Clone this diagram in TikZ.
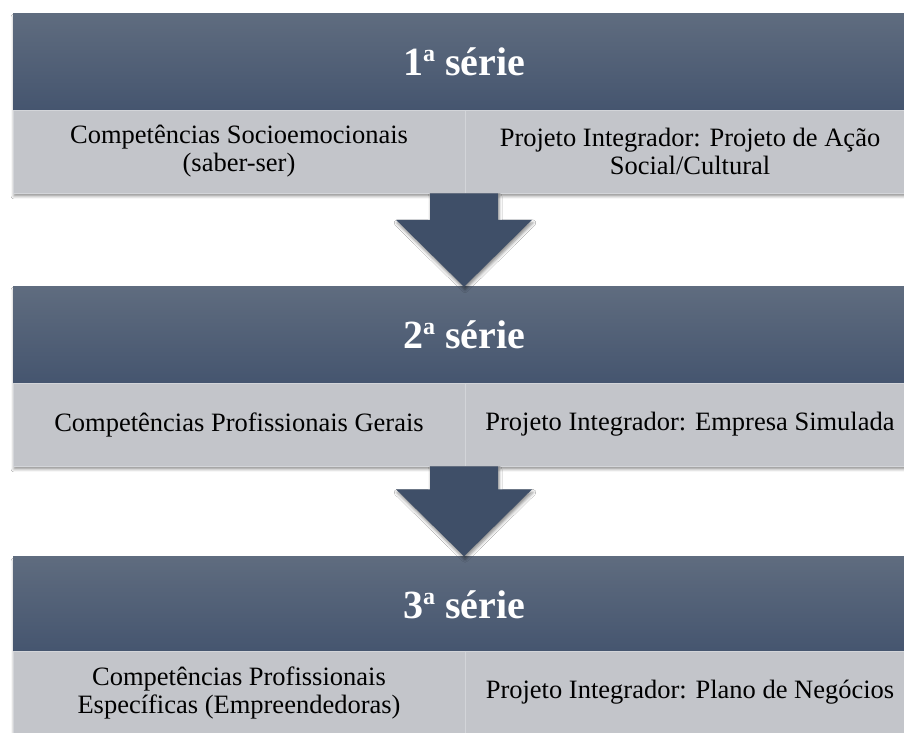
\documentclass[tikz,border=0pt]{standalone}
\usepackage{fontspec}
\setmainfont{Liberation Serif}
\usetikzlibrary{calc,shadows.blur}
\definecolor{hdtop}{HTML}{5F6C7F}
\definecolor{hdbot}{HTML}{45556F}
\definecolor{cellbg}{HTML}{C3C5CA}
\definecolor{arrowc}{HTML}{3F4F68}
\definecolor{cellline}{HTML}{D3D5D9}
\newcommand{\ordsup}{\raisebox{14pt}{\fontsize{24}{24}\selectfont a}}
\begin{document}
\begin{tikzpicture}[x=1pt,y=1pt,
  header/.style={rectangle, minimum width=902pt, minimum height=96pt,
    top color=hdtop, bottom color=hdbot, text=white,
    font=\fontsize{40}{44}\selectfont\bfseries, inner sep=0pt},
  cell/.style={rectangle, fill=cellbg, draw=cellline, line width=0.6pt,
    minimum height=83pt, text=black, font=\fontsize{26.5}{28}\selectfont,
    align=center, inner sep=0pt},
  leftcell/.style={cell, minimum width=452pt},
  rightcell/.style={cell, minimum width=450pt},
  shadowbox/.style={fill=white, blur shadow={shadow xshift=1pt,
    shadow yshift=-3pt, shadow blur radius=3pt, shadow opacity=45}},
  bigarrow/.style={fill=arrowc, blur shadow={shadow xshift=1pt,
    shadow yshift=-3pt, shadow blur radius=3pt, shadow opacity=45}}
]
\useasboundingbox (0,0) rectangle (904,732);
\fill[white] (0,0) rectangle (904,732);

% box 1
\fill[shadowbox] (13,539) rectangle (915,718);
\node[header] (h1) at (464,670) {1\ordsup{} série};
\node[leftcell] (b1l) at (239,580.5) {Competências Socioemocionais\\(saber-ser)};
\node[rightcell] (b1r) at (690,580.5) {Projeto Integrador: Projeto de Ação\\Social/Cultural};

% box 2
\fill[shadowbox] (13,266) rectangle (915,445);
\node[header] (h2) at (464,397) {2\ordsup{} série};
\node[leftcell] (b2l) at (239,307.5) {Competências Profissionais Gerais};
\node[rightcell] (b2r) at (690,307.5) {Projeto Integrador: Empresa Simulada};

% box 3
\fill[shadowbox] (13,-10) rectangle (915,174);
\node[header] (h3) at (464,127.5) {3\ordsup{} série};
\node[leftcell] (b3l) at (239,39.5) {Competências Profissionais\\Específicas (Empreendedoras)};
\node[rightcell] (b3r) at (690,39.5) {Projeto Integrador: Plano de Negócios};

% arrows
\fill[bigarrow] let \p1=(b1l.south east), \p2=(h2.north) in
  (\x2-34pt,\y1) -- (\x2+34pt,\y1) -- (\x2+34pt,\y2+67pt) -- (\x2+68pt,\y2+67pt)
  -- (\x2,\y2) -- (\x2-68pt,\y2+67pt) -- (\x2-34pt,\y2+67pt) -- cycle;
\fill[bigarrow] let \p1=(b2l.south east), \p2=(h3.north) in
  (\x2-34pt,\y1) -- (\x2+34pt,\y1) -- (\x2+34pt,\y2+67pt) -- (\x2+68pt,\y2+67pt)
  -- (\x2,\y2) -- (\x2-68pt,\y2+67pt) -- (\x2-34pt,\y2+67pt) -- cycle;
\end{tikzpicture}
\end{document}
